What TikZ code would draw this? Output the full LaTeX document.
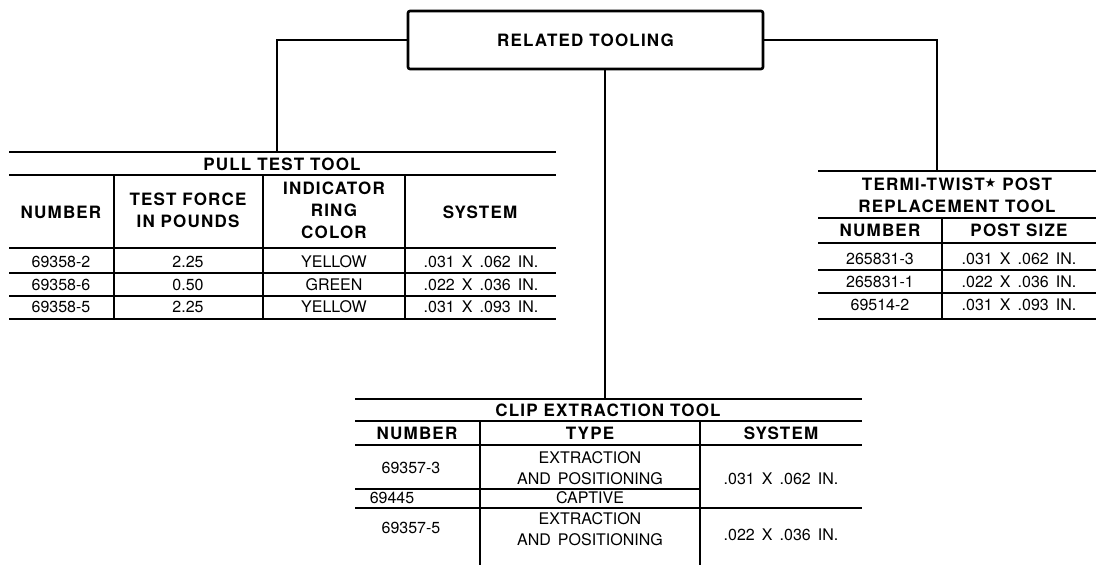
\documentclass[tikz,border=0pt]{standalone}
\usepackage{fontspec}
\setmainfont{TeX Gyre Heros}
\newfontfamily\hdrfont{TeX Gyre Heros}[LetterSpace=7]
\newfontfamily\cellfont{TeX Gyre Heros}[WordSpace=1.6]
\newfontfamily\symfont{DejaVu Sans}
\usetikzlibrary{calc}

\tikzset{
	hdr/.style={font=\hdrfont\bfseries\fontsize{17}{22}\selectfont, align=center, inner sep=0pt},
	cell/.style={font=\cellfont\fontsize{16}{21}\selectfont, align=center, inner sep=0pt},
	rule/.style={line width=2.6pt},
	thinrule/.style={line width=1.3pt},
	vrule/.style={line width=1.8pt}
}

\begin{document}
\begin{tikzpicture}[x=1pt,y=-1pt]
	\useasboundingbox (0,0) rectangle (1096,565);
	\node[draw, rule, rounded corners=2pt, minimum width=355pt, minimum height=58pt, hdr] (rt) at (585.5,40) {RELATED TOOLING};
	\coordinate (pulltop) at (277,152);
	\coordinate (twisttop) at (937,171);
	\coordinate (cliptop) at (605,399);
	\draw[rule] (rt.west) -| (pulltop);
	\draw[rule] (rt.east) -| (twisttop);
	\draw[rule] (rt.south -| cliptop) -- (cliptop);
	% pull test tool
	\draw[rule] (9,152) -- (556,152);
	\draw[thinrule] (9,175) -- (556,175);
	\draw[rule] (9,248) -- (556,248);
	\draw[thinrule] (9,273) -- (556,273);
	\draw[thinrule] (9,296) -- (556,296);
	\draw[rule] (9,319) -- (556,319);
	\foreach \x in {114,263,405}
		\draw[vrule] (\x,175) -- (\x,319);
	\node[hdr] (pull) at (282,164) {PULL TEST TOOL};
	\node[hdr] (pn) at (61,212) {NUMBER};
	\node[hdr] (pf) at (188,210) {TEST FORCE\\IN POUNDS};
	\node[hdr] (pc) at (334,210) {INDICATOR\\RING\\COLOR};
	\node[hdr] (ps) at (480,212) {SYSTEM};
	\node[cell] at (61,262) {69358-2};
	\node[cell] at (188,262) {2.25};
	\node[cell] at (334,262) {YELLOW};
	\node[cell] at (481,262) {.031 X .062 IN.};
	\node[cell] at (61,285) {69358-6};
	\node[cell] at (188,285) {0.50};
	\node[cell] at (334,285) {GREEN};
	\node[cell] at (481,285) {.022 X .036 IN.};
	\node[cell] at (61,307) {69358-5};
	\node[cell] at (188,307) {2.25};
	\node[cell] at (334,307) {YELLOW};
	\node[cell] at (481,307) {.031 X .093 IN.};
	% termi-twist post replacement tool
	\draw[rule] (818,171) -- (1096,171);
	\draw[rule] (818,218) -- (1096,218);
	\draw[rule] (818,243) -- (1096,243);
	\draw[thinrule] (818,270) -- (1096,270);
	\draw[rule] (818,293) -- (1096,293);
	\draw[rule] (818,319) -- (1096,319);
	\draw[vrule] (942,218) -- (942,319);
	\node[hdr] (twist) at (957,195) {TERMI-TWIST{\symfont\fontsize{13}{13}\selectfont\raisebox{3pt}{★}} POST\\REPLACEMENT TOOL};
	\node[hdr] (tn) at (880,230) {NUMBER};
	\node[hdr] (tp) at (1019,230) {POST SIZE};
	\node[cell] at (880,259) {265831-3};
	\node[cell] at (1019,259) {.031 X .062 IN.};
	\node[cell] at (880,282) {265831-1};
	\node[cell] at (1019,282) {.022 X .036 IN.};
	\node[cell] at (880,305) {69514-2};
	\node[cell] at (1019,305) {.031 X .093 IN.};
	% clip extraction tool
	\draw[rule] (355,399) -- (862,399);
	\draw[thinrule] (355,421) -- (862,421);
	\draw[rule] (355,445) -- (862,445);
	\draw[thinrule] (355,489) -- (700,489);
	\draw[thinrule] (355,508) -- (862,508);
	\draw[vrule] (480,421) -- (480,565);
	\draw[vrule] (700,421) -- (700,565);
	\node[hdr] (clip) at (608,410) {CLIP EXTRACTION TOOL};
	\node[hdr] (cn) at (417,433) {NUMBER};
	\node[hdr] (ct) at (590,433) {TYPE};
	\node[hdr] (cs) at (781,433) {SYSTEM};
	\node[cell] at (411,468) {69357-3};
	\node[cell] at (590,468) {EXTRACTION\\AND POSITIONING};
	\node[cell] at (781,479) {.031 X .062 IN.};
	\node[cell] at (392,498) {69445};
	\node[cell] at (590,498) {CAPTIVE};
	\node[cell] at (411,528) {69357-5};
	\node[cell] at (590,529) {EXTRACTION\\AND POSITIONING};
	\node[cell] at (781,535) {.022 X .036 IN.};
\end{tikzpicture}
\end{document}
